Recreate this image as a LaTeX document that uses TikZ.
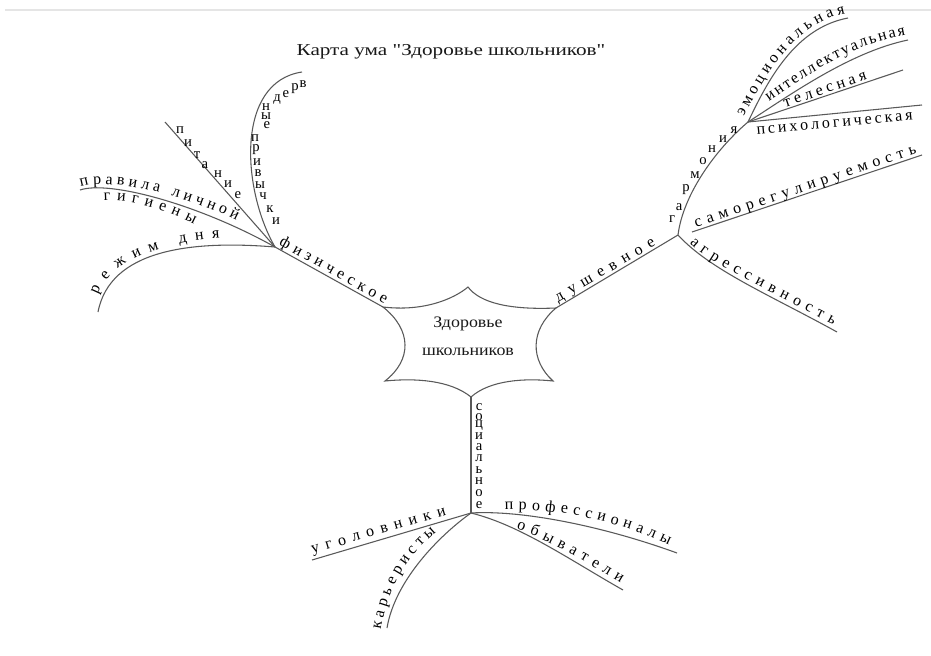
\documentclass[tikz,border=0pt]{standalone}
\usepackage{fontspec}
\setmainfont{Liberation Serif}
% a family without TeX ligatures keeps the straight quotation marks
\newfontfamily\plainserif{Liberation Serif}
\usetikzlibrary{decorations.text}
\newcommand\brfont{\fontsize{12}{14}\selectfont}
\newcommand\upfont{\fontsize{11}{13}\selectfont}
\begin{document}
\begin{tikzpicture}[x=0.75pt, y=-0.75pt,
  branch/.style={draw=black!65, line width=0.8pt},
  lbl/.style={decorate, decoration={text along path, text align=fit to path, raise=#1}},
  lbl/.default=1.5pt,
  lt/.style={inner sep=0pt, font=\upfont, text=black},
  star/.style={draw=black!65, line width=0.8pt, fill=white},
]
\fill[white] (0,0) rectangle (931,656);
\useasboundingbox (0,0) rectangle (931,656);
\draw[black!10, line width=1pt] (5,10) -- (931,10);

% title
\node[font=\plainserif\fontsize{12.5}{15}\selectfont, text=black!90] (title) at (451,52)
  {\scalebox{1.27}[1]{Карта ума "Здоровье школьников"}};

% central star
\coordinate (sT) at (468,287);
\coordinate (sUR) at (556,308);
\coordinate (sLR) at (553,381);
\coordinate (sB) at (471,397);
\coordinate (sLL) at (385,381);
\coordinate (sUL) at (383,307);
\draw[star] (sUL) .. controls (425,312) and (455,298) .. (sT)
  .. controls (480,303) and (510,310) .. (sUR)
  .. controls (530,330) and (530,360) .. (sLR)
  .. controls (525,378) and (490,380) .. (sB)
  .. controls (450,380) and (415,378) .. (sLL)
  .. controls (412,360) and (412,330) .. cycle;
\node[align=center, font=\fontsize{12}{21}\selectfont, text=black!90] (center) at (468,336)
  {\scalebox{1.12}[1]{Здоровье}\\\scalebox{1.12}[1]{школьников}};

% ---------- physical ----------
\coordinate (hubF) at (275,247);
\draw[branch] (hubF) -- (sUL);
\path[lbl=1pt, decoration={text={|\brfont|физическое}}] (278,246) -- (384,305);

\coordinate (eRezh) at (98,312);
\draw[branch] (hubF) .. controls (190,240) and (110,250) .. (eRezh);
\path[lbl=2pt, decoration={text={|\brfont|режим дня}}] (100,296) .. controls (112,262) and (165,245) .. (220,241);

\coordinate (ePrav) at (80,190);
\draw[branch] (ePrav) .. controls (110,180) and (200,205) .. (hubF);
\path[lbl=1pt, decoration={text={|\brfont|правила личной}}] (81,188) .. controls (110,178) and (190,198) .. (236,222);
\path[lbl=0pt, decoration={text={|\brfont|гигиены}}] (104,201) .. controls (130,199) and (165,209) .. (194,224);

\coordinate (ePit) at (165,122);
\draw[branch] (ePit) -- (hubF);
\foreach \ch/\x/\y [count=\i] in {п/180/130, и/188/143, т/197/155, а/205/165, н/218/174, и/228/184, е/238/195}
  \node[lt] (pit\i) at (\x,\y) {\ch};

\coordinate (eVred) at (302,72);
\draw[branch] (eVred) .. controls (235,82) and (242,190) .. (hubF);
\foreach \ch/\x/\y [count=\i] in {в/303/84, р/295/89, е/286/94, д/277/100, н/266/107, ы/266/116, е/267/125,
    п/255/138, р/256/150, и/257/162, в/258/173, ы/260/185, ч/263/196, к/270/209, и/276/221}
  \node[lt] (vr\i) at (\x,\y) {\ch};

% ---------- spiritual ----------
\coordinate (hubD) at (678,235);
\draw[branch] (sUR) -- (hubD);
\path[lbl, decoration={text={|\brfont|душевное}}] (559,304) -- (657,247);

\coordinate (hubH) at (748,122);
\draw[branch] (hubD) .. controls (683,195) and (715,150) .. (hubH);
\foreach \ch/\x/\y [count=\i] in {г/672/219, а/679/207, р/686/190, м/695/175, о/703/161, н/712/149, и/723/139, я/734/130}
  \node[lt] (ga\i) at (\x,\y) {\ch};

\coordinate (eEmo) at (848,18);
\draw[branch] (hubH) .. controls (768,80) and (795,28) .. (eEmo);
\path[lbl=2pt, decoration={text={|\brfont|эмоциональная}}] (746,118) .. controls (766,80) and (795,26) .. (846,16);

\coordinate (eInt) at (908,40);
\draw[branch] (hubH) .. controls (790,95) and (850,52) .. (eInt);
\path[lbl=1pt, decoration={text={|\brfont|интеллектуальная}}] (770,103) .. controls (805,78) and (850,46) .. (906,36);

\coordinate (eTel) at (903,70);
\draw[branch] (hubH) -- (eTel);
\path[lbl=1.5pt, decoration={text={|\brfont|телесная}}] (786,109) -- (868,81);

\coordinate (ePsy) at (922,105);
\draw[branch] (hubH) -- (ePsy);
\path[lbl=0pt, decoration={text={|\brfont|психологическая}}] (757,135) -- (913,120);

\coordinate (sSam) at (692,232);
\coordinate (eSam) at (922,155);
\draw[branch] (sSam) -- (eSam);
\path[lbl=2pt, decoration={text={|\brfont|саморегулируемость}}] (697,230) -- (918,156);

\coordinate (eAgr) at (837,332);
\draw[branch] (hubD) .. controls (710,270) and (770,295) .. (eAgr);
\path[lbl=2pt, decoration={text={|\brfont|агрессивность}}] (688,245) .. controls (712,268) and (770,294) .. (832,327);

% ---------- social ----------
\coordinate (hubS) at (471,513);
\draw[branch] (sB) -- (hubS);
\foreach \ch/\y [count=\i] in {с/407, о/417, ц/426, и/436, а/447, л/458, ь/470, н/481, о/493, е/505}
  \node[lt] (so\i) at (479,\y) {\ch};

\coordinate (eUgol) at (312,560);
\draw[branch] (hubS) -- (eUgol);
\path[lbl=4pt, decoration={text={|\brfont|уголовники}}] (314,559) -- (448,520);

\coordinate (eProf) at (677,553);
\draw[branch] (hubS) .. controls (520,510) and (600,525) .. (eProf);
\path[lbl=1.5pt, decoration={text={|\brfont|профессионалы}}] (505,512) .. controls (560,510) and (620,524) .. (668,547);

\coordinate (eObyv) at (623,590);
\draw[branch] (hubS) .. controls (520,525) and (570,560) .. (eObyv);
\path[lbl=1pt, decoration={text={|\brfont|обыватели}}] (516,530) .. controls (545,540) and (580,560) .. (620,584);

\coordinate (eKar) at (387,628);
\draw[branch] (hubS) .. controls (440,535) and (395,580) .. (eKar);
\path[lbl=1pt, decoration={text={|\brfont|карьеристы}}] (382,630) .. controls (389,590) and (405,560) .. (437,533);
\end{tikzpicture}
\end{document}
